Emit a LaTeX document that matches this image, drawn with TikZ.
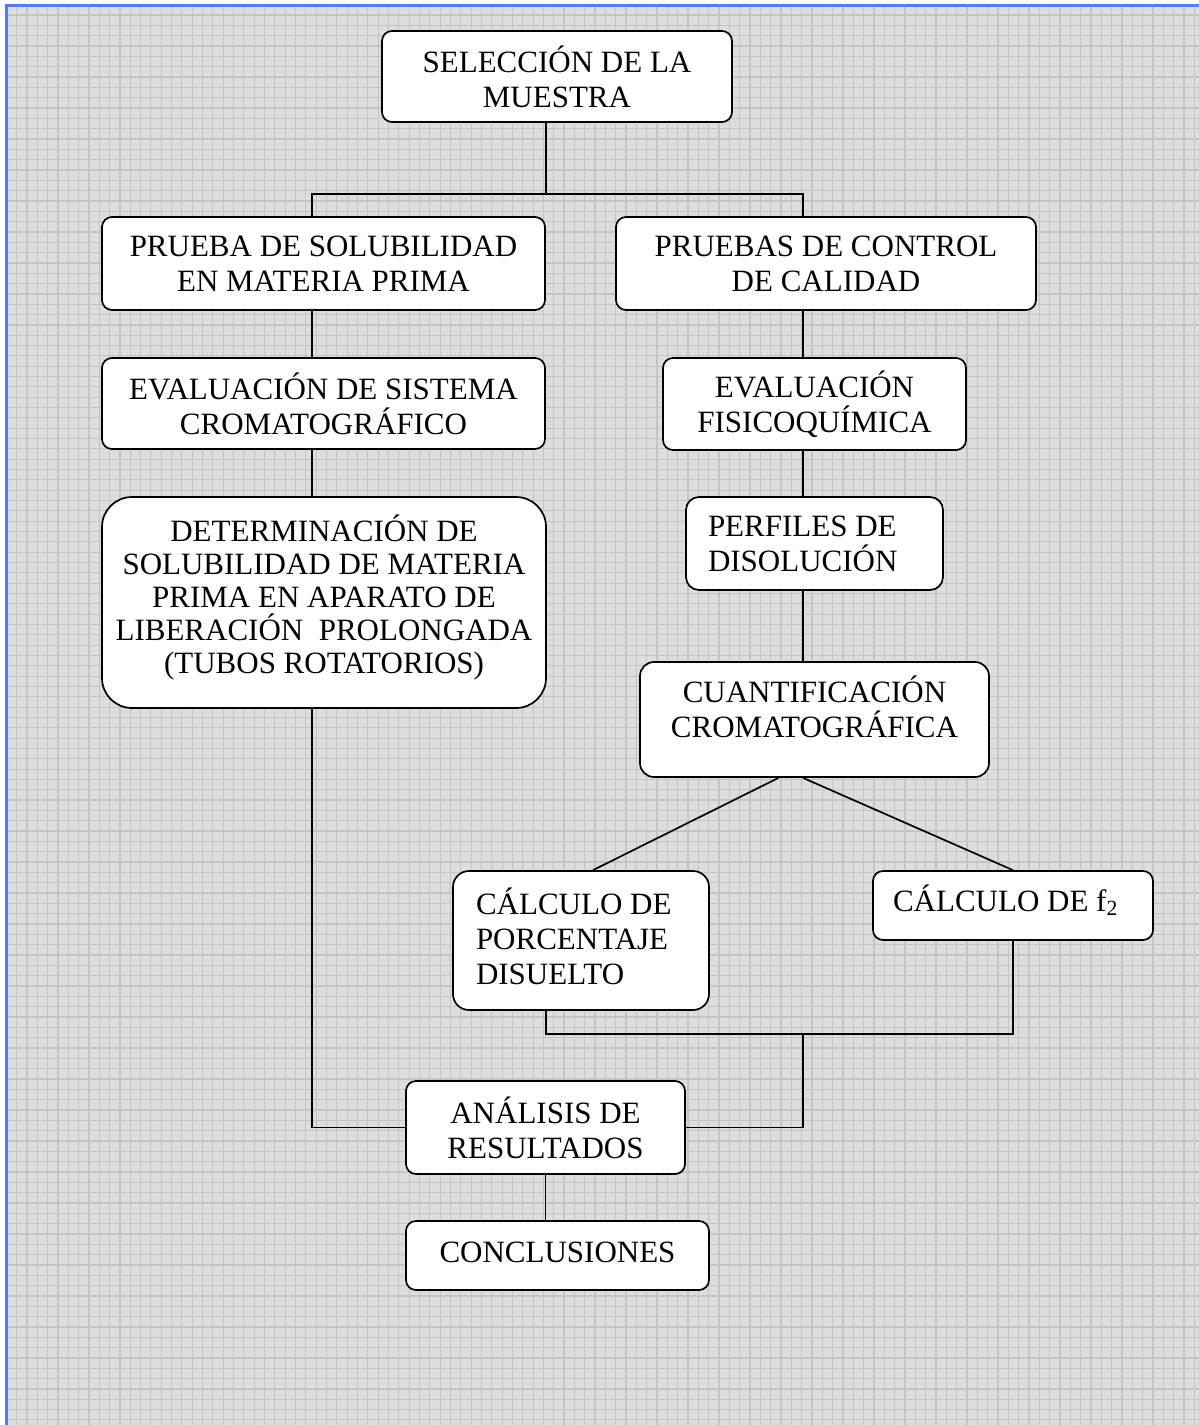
\documentclass[tikz,border=0pt]{standalone}
\usepackage{fontspec}
\setmainfont{Liberation Serif}
\usetikzlibrary{calc}
\definecolor{fondo}{RGB}{221,221,221}
\definecolor{rejilla}{RGB}{197,197,197}
\definecolor{marco}{RGB}{84,124,250}
\newcommand{\bajo}[1]{\rule[-#1]{0pt}{#1}}
\begin{document}
\begin{tikzpicture}[x=0.5pt,y=-0.5pt,
	caja/.style={shape=rectangle, draw=black, fill=white, line width=0.85pt, rounded corners=5pt, align=center, inner sep=2pt, font=\fontsize{15.5}{17.5}\selectfont},
	linea/.style={line width=0.85pt}]
		\useasboundingbox (0,0) rectangle (1199,1425);
		\fill[fondo] (7,6) rectangle (1199,1425);
		\foreach \i in {0,...,115} \draw[rejilla, line width=0.6pt] ({16.6+10.33*\i},6) -- ({16.6+10.33*\i},1425);
		\foreach \i in {0,...,137} \draw[rejilla, line width=0.6pt] (7,{15+10.33*\i}) -- (1199,{15+10.33*\i});
		\draw[marco, line width=1.3pt] (6.5,1425) -- (6.5,5.5) -- (1199,5.5);

		\coordinate (colL) at (312,0);
		\coordinate (colR) at (803,0);
		\coordinate (colM) at (546,0);
		\coordinate (split) at (546,194);
		\coordinate (union) at (803,1034);

		\draw (557,76.5) node[caja, minimum width=175pt, minimum height=45.5pt](seleccion){SELECCIÓN DE LA\\MUESTRA};
		\draw (323.5,263.5) node[caja, minimum width=221.5pt, minimum height=46.5pt](solub){PRUEBA DE SOLUBILIDAD\\EN MATERIA PRIMA};
		\draw (826,263.5) node[caja, minimum width=210pt, minimum height=46.5pt](control){PRUEBAS DE CONTROL\\DE CALIDAD};
		\draw (323.5,403.5) node[caja, minimum width=221.5pt, minimum height=45.5pt](sistema){EVALUACIÓN DE SISTEMA\\CROMATOGRÁFICO};
		\draw (814.5,404) node[caja, minimum width=151.5pt, minimum height=46pt](fisico){EVALUACIÓN\\FISICOQUÍMICA};
		\draw (324,602.5) node[caja, minimum width=222pt, minimum height=105.5pt, rounded corners=15pt, font=\fontsize{15.5}{16.5}\selectfont](determ){DETERMINACIÓN DE\\SOLUBILIDAD DE MATERIA\\PRIMA EN APARATO DE\\LIBERACIÓN\ \ PROLONGADA\\(TUBOS ROTATORIOS)\bajo{8pt}};
		\draw (814.5,543.5) node[caja, align=flush left, text width=106.5pt, inner xsep=11pt, minimum height=46.5pt, rounded corners=6.5pt](perfiles){PERFILES DE\\DISOLUCIÓN};
		\draw (814.5,719.5) node[caja, minimum width=174.5pt, minimum height=57.5pt, rounded corners=7pt](cuant){CUANTIFICACIÓN\\CROMATOGRÁFICA\bajo{12.5pt}};
		\draw (581,940.5) node[caja, align=flush left, text width=105pt, inner xsep=11.5pt, minimum height=69.5pt, rounded corners=8pt](porcent){CÁLCULO DE\\PORCENTAJE\\DISUELTO\bajo{4pt}};
		\draw (1013,905.5) node[caja, align=flush left, text width=120pt, inner xsep=10pt, minimum height=34.5pt](ftwo){CÁLCULO DE f\textsubscript{2}\bajo{7.5pt}};
		\draw (545.5,1127.5) node[caja, minimum width=139.5pt, minimum height=46.5pt](analisis){ANÁLISIS DE\\RESULTADOS};
		\draw (557.5,1255.5) node[caja, minimum width=151.5pt, minimum height=34.5pt](concl){CONCLUSIONES\bajo{3.5pt}};

		\draw[linea] (seleccion.south -| colM) -- (split);
		\draw[linea] (solub.north -| colL) |- (split) -| (control.north -| colR);
		\draw[linea] (solub.south -| colL) -- (sistema.north -| colL);
		\draw[linea] (sistema.south -| colL) -- (determ.north -| colL);
		\draw[linea] (determ.south -| colL) |- (analisis.west);
		\draw[linea] (control.south -| colR) -- (fisico.north -| colR);
		\draw[linea] (fisico.south -| colR) -- (perfiles.north -| colR);
		\draw[linea] (perfiles.south -| colR) -- (cuant.north -| colR);
		\draw[linea] ([xshift=-18pt]cuant.south) -- ([xshift=6pt]porcent.north);
		\draw[linea] (cuant.south -| colR) -- (ftwo.north);
		\draw[linea] (porcent.south -| colM) |- (union) -| (ftwo.south);
		\draw[linea] (union) |- (analisis.east);
		\draw[linea] (analisis.south) -- (analisis.south |- concl.north);
	\end{tikzpicture}
\end{document}
